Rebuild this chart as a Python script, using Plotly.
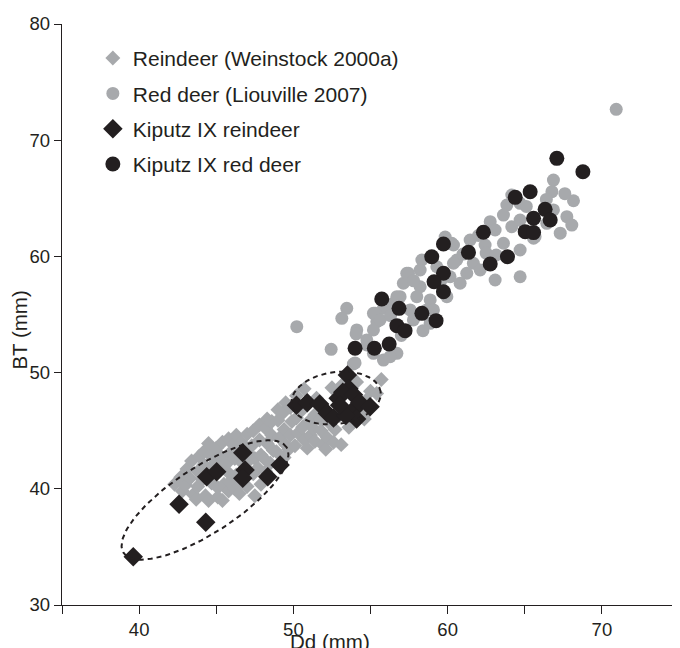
import numpy as np
import plotly.graph_objects as go

GRAY = "#a7a9ac"
BLACK = "#231f20"
FONT = "Liberation Sans, Arial, sans-serif"

# Reindeer (Weinstock 2000a)
reindeer_ref_x = [42.3, 42.7, 42.8, 43.1, 43.0, 43.4, 43.5, 43.3, 43.8, 43.9, 43.7, 43.8,
                  44.2, 44.1, 44.3, 44.2, 44.6, 44.5, 44.7, 44.6, 44.5, 45.0, 45.1, 44.9,
                  45.0, 45.1, 45.4, 45.3, 45.5, 45.4, 45.3, 45.8, 45.9, 45.7, 45.8, 45.9,
                  45.7, 46.2, 46.3, 46.1, 46.2, 46.3, 46.6, 46.7, 46.5, 46.6, 46.5, 47.0,
                  47.1, 46.9, 47.0, 47.1, 47.4, 47.3, 47.5, 47.4, 47.5, 47.8, 47.9, 47.7,
                  47.8, 47.9, 48.2, 48.3, 48.1, 48.2, 48.3, 48.6, 48.7, 48.5, 48.6, 49.0,
                  49.1, 48.9, 49.0, 49.1, 49.4, 49.5, 49.3, 49.4, 49.5, 49.8, 49.9, 49.7,
                  49.8, 50.2, 50.3, 50.1, 50.2, 50.6, 50.7, 50.5, 50.7, 51.0, 51.1, 50.9,
                  51.4, 51.3, 51.5, 51.4, 51.8, 51.9, 51.7, 52.2, 52.3, 52.1, 52.5, 52.6,
                  52.7, 53.1, 53.0, 53.2, 53.6, 53.9, 54.1, 54.5, 54.6, 54.7, 55.0, 55.4,
                  55.7]
reindeer_ref_y = [40.4, 41.0, 39.8, 41.7, 40.3, 42.4, 39.5, 40.9, 41.5, 42.8, 39.1, 40.2,
                  42.1, 40.8, 39.4, 43.2, 41.7, 39.0, 40.5, 42.9, 43.9, 43.5, 40.1, 41.2,
                  42.3, 39.3, 44.0, 42.8, 40.4, 39.0, 41.8, 44.3, 43.1, 41.5, 39.8, 40.6,
                  42.2, 42.6, 41.2, 43.8, 40.0, 44.6, 44.0, 42.2, 40.3, 43.3, 39.6, 44.7,
                  43.0, 41.8, 40.2, 42.4, 45.0, 43.7, 42.6, 41.3, 39.4, 44.2, 42.9, 41.8,
                  45.5, 40.4, 45.2, 43.9, 42.6, 41.5, 46.0, 44.6, 43.3, 42.2, 45.8, 45.9,
                  44.4, 43.2, 46.8, 42.0, 45.1, 43.8, 46.5, 42.7, 47.4, 44.6, 45.8, 43.4,
                  47.0, 46.1, 44.8, 43.7, 48.0, 45.3, 44.2, 46.7, 48.6, 45.8, 44.6, 43.5,
                  44.1, 45.2, 47.8, 46.4, 45.0, 43.8, 46.0, 44.4, 45.7, 43.4, 48.7, 44.0,
                  45.1, 43.8, 46.3, 49.0, 45.3, 45.8, 49.2, 46.2, 46.0, 47.6, 48.4, 48.2,
                  49.4]

# Red deer (Liouville 2007)
reddeer_ref_x = [70.93, 66.86, 66.76, 68.16, 67.73, 68.05, 64.16, 63.84, 64.70, 63.62,
                 62.76, 63.08, 64.16, 64.70, 65.57, 66.43, 66.86, 65.67, 61.46, 62.43,
                 63.62, 60.38, 60.59, 61.67, 62.11, 61.24, 60.16, 63.08, 64.70, 60.81,
                 60.27, 57.46, 57.13, 58.33, 58.22, 58.22, 58.00, 58.87, 56.92, 56.49,
                 55.84, 55.19, 55.41, 53.46, 58.65, 57.57, 57.78, 58.87, 54.11, 50.22,
                 53.14, 54.07, 52.45, 53.89, 54.76, 54.76, 55.19, 55.30, 55.62, 56.27,
                 56.71, 57.35, 59.08, 59.95, 59.30, 60.38, 56.71, 56.27, 55.19, 55.84,
                 54.00, 59.84, 62.50, 64.70, 63.15, 67.30, 66.40, 65.10, 62.00, 61.00,
                 59.60, 57.80, 56.30, 57.00, 58.40, 67.60]
reddeer_ref_y = [72.66, 66.57, 65.57, 64.79, 63.42, 62.70, 65.28, 64.42, 64.57, 63.56,
                 62.99, 62.27, 62.56, 63.13, 61.56, 62.85, 64.00, 61.70, 61.41, 60.98,
                 61.13, 60.98, 59.69, 59.41, 58.83, 58.55, 58.25, 57.97, 58.25, 57.69,
                 61.13, 58.55, 57.69, 59.69, 58.83, 57.39, 56.53, 56.25, 56.53, 55.96,
                 55.53, 55.10, 54.38, 55.53, 55.39, 55.39, 54.53, 54.24, 53.67, 53.95,
                 54.67, 53.32, 52.00, 50.74, 52.38, 52.81, 53.67, 55.10, 54.53, 55.67,
                 56.53, 58.55, 55.39, 56.53, 59.11, 59.41, 51.66, 51.37, 51.66, 51.08,
                 50.83, 61.67, 60.29, 60.55, 60.12, 62.00, 64.90, 64.30, 61.80, 60.20,
                 58.00, 57.90, 54.90, 53.20, 53.60, 65.40]

# Kiputz IX reindeer
kiputz_rein_x = [39.62, 42.59, 44.32, 44.38, 45.03, 46.72, 46.87, 46.72, 48.34, 49.14,
                 50.20, 50.90, 51.70, 52.20, 52.60, 52.90, 53.50, 53.60, 53.20, 53.90,
                 53.90, 54.30, 54.97, 54.10, 53.40, 53.00]
kiputz_rein_y = [34.16, 38.67, 37.12, 41.04, 41.47, 43.11, 41.62, 40.90, 41.04, 42.05,
                 47.20, 47.40, 47.30, 46.50, 46.10, 47.80, 49.80, 48.60, 48.30, 48.10,
                 46.80, 47.40, 47.07, 46.00, 46.30, 47.20]

# Kiputz IX red deer
kiputz_red_x = [67.08, 68.77, 65.35, 64.38, 66.32, 66.65, 65.57, 65.03, 65.57, 62.32,
                59.73, 61.35, 63.88, 62.76, 58.97, 59.73, 59.12, 59.73, 55.73, 56.85,
                56.71, 57.24, 58.33, 59.25, 56.21, 55.25, 54.00]
kiputz_red_y = [68.44, 67.29, 65.57, 65.08, 64.05, 63.13, 63.28, 62.13, 62.05, 62.08,
                61.07, 60.35, 59.97, 59.35, 59.97, 58.55, 57.82, 56.96, 56.33, 55.53,
                54.04, 53.61, 55.10, 54.47, 52.46, 52.09, 52.09]

x_tickvals = [35, 40, 45, 50, 55, 60, 65, 70, 75]
x_ticktext = ["", "40", "", "50", "", "60", "", "70", ""]
y_tickvals = [30, 40, 50, 60, 70, 80]

# dashed outlines: centre and two conjugate semi-axis vectors (data units)
ellipse_big = dict(cx=44.27, cy=39.04, ux=5.28, uy=4.55, vx=-1.167, vy=2.384)
ellipse_small = dict(cx=52.77, cy=47.81, ux=2.89, uy=0.539, vx=-0.235, vy=2.216)


def ellipse_xy(e, n=200):
    t = np.linspace(0, 2 * np.pi, n)
    return (e["cx"] + e["ux"] * np.cos(t) + e["vx"] * np.sin(t),
            e["cy"] + e["uy"] * np.cos(t) + e["vy"] * np.sin(t))


fig = go.Figure()
fig.add_trace(go.Scatter(x=reindeer_ref_x, y=reindeer_ref_y, mode="markers",
                         name="Reindeer (Weinstock 2000a)", legendgroup="a",
                         marker=dict(symbol="diamond", size=11.5, color=GRAY, line=dict(width=0))))
fig.add_trace(go.Scatter(x=reddeer_ref_x, y=reddeer_ref_y, mode="markers",
                         name="Red deer (Liouville 2007)", legendgroup="b",
                         marker=dict(symbol="circle", size=13, color=GRAY, line=dict(width=0))))
fig.add_trace(go.Scatter(x=kiputz_rein_x, y=kiputz_rein_y, mode="markers",
                         name="Kiputz IX reindeer", legendgroup="c",
                         marker=dict(symbol="diamond", size=15, color=BLACK, line=dict(width=0))))
fig.add_trace(go.Scatter(x=kiputz_red_x, y=kiputz_red_y, mode="markers",
                         name="Kiputz IX red deer", legendgroup="d",
                         marker=dict(symbol="circle", size=15, color=BLACK, line=dict(width=0))))
for e in (ellipse_big, ellipse_small):
    ex, ey = ellipse_xy(e)
    fig.add_trace(go.Scatter(x=ex, y=ey, mode="lines", showlegend=False, hoverinfo="skip",
                             line=dict(color=BLACK, width=2, dash="5px,4px")))

axis_common = dict(showgrid=False, zeroline=False, showline=True, linecolor=BLACK,
                   linewidth=1.3, ticks="outside", tickcolor=BLACK, tickwidth=1.3,
                   tickfont=dict(family=FONT, size=18.5, color=BLACK))
# the page body keeps an 8px default margin, so the figure is 8px smaller
fig.update_layout(
    width=672, height=640,
    margin=dict(l=54, r=1, t=16, b=43),
    paper_bgcolor="white", plot_bgcolor="white",
    showlegend=True,
    legend=dict(x=0.05, y=0.976, xanchor="left", yanchor="top",
                font=dict(family=FONT, size=21, color=BLACK),
                tracegroupgap=5, bgcolor="rgba(0,0,0,0)"),
    xaxis=dict(range=[35, 75], tickvals=x_tickvals, ticktext=x_ticktext, ticklen=8,
               **axis_common),
    yaxis=dict(range=[30, 80], tickvals=y_tickvals, ticklen=7, **axis_common),
    annotations=[
        dict(text="Dd (mm)", xref="paper", yref="paper", x=0.434, y=-0.062,
             xanchor="center", yanchor="middle", showarrow=False,
             font=dict(family=FONT, size=20.5, color=BLACK)),
        dict(text="BT (mm)", xref="paper", yref="paper", x=-0.069, y=0.473,
             xanchor="center", yanchor="middle", showarrow=False, textangle=-90,
             font=dict(family=FONT, size=20.5, color=BLACK)),
    ],
)

fig.write_html("out.html")
